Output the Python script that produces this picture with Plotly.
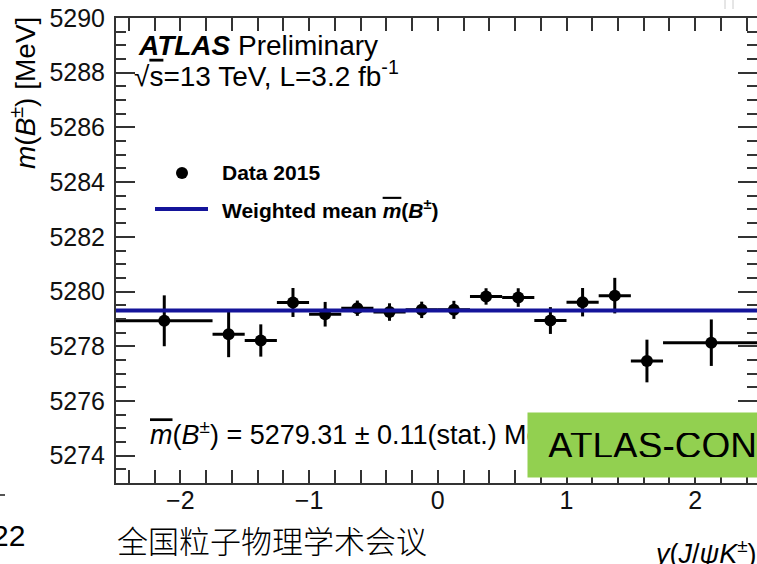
import plotly.graph_objects as go

# B+- mass measured in bins of rapidity y(J/psi K+-), ATLAS 2015 data
bin_lo = [-2.5, -1.75, -1.5, -1.25, -1.0, -0.75, -0.5, -0.25,
          0.0, 0.25, 0.5, 0.75, 1.0, 1.25, 1.5, 1.75]
bin_hi = [-1.75, -1.5, -1.25, -1.0, -0.75, -0.5, -0.25, 0.0,
          0.25, 0.5, 0.75, 1.0, 1.25, 1.5, 1.75, 2.5]
mass_mev = [5278.93, 5278.44, 5278.21, 5279.60, 5279.17, 5279.39, 5279.25, 5279.33,
            5279.33, 5279.82, 5279.78, 5278.94, 5279.61, 5279.85, 5277.46, 5278.13]
stat_err = [0.93, 0.84, 0.59, 0.53, 0.45, 0.28, 0.32, 0.30,
            0.33, 0.30, 0.34, 0.49, 0.52, 0.65, 0.78, 0.85]
weighted_mean = 5279.31
mean_err = 0.11

x_ticks = [-2, -1, 0, 1, 2]
y_ticks = [5274, 5276, 5278, 5280, 5282, 5284, 5286, 5288, 5290]

# canvas geometry (pixels)
W, H = 757, 564
ML, MR, MT, MB = 116, 0, 18, 81
PW, PH = W - ML - MR, H - MT - MB


def px_x(p):
    return (p - ML) / PW


def px_y(p):
    return 1 - (p - MT) / PH


FONT = "Liberation Sans, Arial, Helvetica, sans-serif"
CJK = "Noto Sans CJK SC, sans-serif"
NAVY = "#14149a"
AXC = "#333333"

x_mid = [(a + b) / 2 for a, b in zip(bin_lo, bin_hi)]
x_half = [(b - a) / 2 for a, b in zip(bin_lo, bin_hi)]

fig = go.Figure()

fig.add_trace(go.Scatter(
    x=[bin_lo[0], bin_hi[-1]], y=[weighted_mean, weighted_mean],
    mode="lines", line=dict(color=NAVY, width=4),
    yaxis="y2", showlegend=False, hoverinfo="skip",
))

fig.add_trace(go.Scatter(
    x=x_mid, y=mass_mev, mode="markers",
    marker=dict(color="black", size=12),
    error_y=dict(type="data", array=stat_err, color="black", thickness=3, width=0),
    error_x=dict(type="data", array=x_half, color="black", thickness=3, width=0),
    showlegend=False,
))

y_range = [5273, 5290]
x_range = [-2.5, 2.48]

axis_common = dict(
    showgrid=False, zeroline=False, ticks="inside", tickcolor=AXC,
    tickwidth=2, automargin=False,
    tickfont=dict(family=FONT, size=25, color="#111111"),
)

fig.update_layout(
    width=W, height=H,
    margin=dict(l=ML, r=MR, t=MT, b=MB, pad=0),
    paper_bgcolor="white", plot_bgcolor="white",
    font=dict(family=FONT, color="black"),
    xaxis=dict(
        range=x_range, tickvals=x_ticks, ticklen=13,
        showline=True, linecolor=AXC, linewidth=2, mirror="allticks",
        ticklabelstandoff=-6,
        minor=dict(dtick=0.2, tick0=0, ticks="inside", ticklen=7,
                   tickcolor=AXC, tickwidth=2, showgrid=False),
        **axis_common,
    ),
    yaxis=dict(
        range=y_range, tickvals=y_ticks, ticklen=19,
        showline=True, linecolor=AXC, linewidth=2, mirror=False,
        ticklabelstandoff=4,
        minor=dict(dtick=0.5, tick0=5274, ticks="inside", ticklen=10,
                   tickcolor=AXC, tickwidth=2, showgrid=False),
        **axis_common,
    ),
    yaxis2=dict(
        range=y_range, overlaying="y", side="right", tickvals=y_ticks,
        ticklen=19, showline=False, showticklabels=False,
        minor=dict(dtick=0.5, tick0=5274, ticks="inside", ticklen=10,
                   tickcolor=AXC, tickwidth=2, showgrid=False),
        showgrid=False, zeroline=False, ticks="inside", tickcolor=AXC,
        tickwidth=2,
    ),
    showlegend=False,
)

ann = []


def text(x, y, s, size, xanchor="left", yanchor="middle", family=FONT,
         color="black", weight=None, **kw):
    font = dict(family=family, size=size, color=color)
    if weight is not None:
        font["weight"] = weight
    ann.append(dict(
        xref="paper", yref="paper", x=px_x(x), y=px_y(y), text=s,
        showarrow=False, xanchor=xanchor, yanchor=yanchor,
        font=font, **kw))


OVL = '<span style="text-decoration:overline">%s</span>'

text(136, 46, "<b><i>ATLAS</i></b> Preliminary", 28)
text(132, 74, "\u221a" + OVL % "s" + "=13 TeV, L=3.2 fb<sup>-1</sup>", 28)

# legend entries
text(220, 173, "<b>Data 2015</b>", 21)
text(220, 209, "<b>Weighted mean <i>" + OVL % "m" + "</i>(<i>B</i><sup>\u00b1</sup>)</b>", 21)

# fit result
text(148, 433,
     "<i>" + OVL % "m" + "</i>(<i>B</i><sup>\u00b1</sup>) = %.2f \u00b1 %.2f(stat.) MeV"
     % (weighted_mean, mean_err), 27)

# axis titles
text(23, 15, "<i>m</i>(<i>B</i><sup>\u00b1</sup>) [MeV]", 28,
     xanchor="center", yanchor="top", textangle=-90)
text(652, 552, "<i>y</i>(<i>J</i>/<i>\u03c8</i><i>K</i><sup>\u00b1</sup>)", 27)

# slide footer
text(27, 535, "22", 30, xanchor="right")
text(115, 539, "全国粒子物理学术会议", 31, family=CJK, weight=300)

# conference note label
ann.append(dict(
    xref="paper", yref="paper", x=px_x(527), y=px_y(412),
    xanchor="left", yanchor="top", showarrow=False,
    text="ATLAS-CONF-2016", align="left", valign="middle",
    width=300 - 40, height=64 - 40, borderpad=20,
    bgcolor="#92d050", font=dict(family=FONT, size=37, color="black"),
))

fig.update_layout(annotations=ann)

# slide decorations at the edges
fig.add_shape(type="line", xref="paper", yref="paper",
              x0=px_x(0), x1=px_x(5), y0=px_y(495), y1=px_y(495),
              line=dict(color="#555555", width=2))
for xv in (725, 733):
    fig.add_shape(type="line", xref="paper", yref="paper",
                  x0=px_x(xv), x1=px_x(xv), y0=px_y(0), y1=px_y(9),
                  line=dict(color="#cccccc", width=1))

# legend keys
fig.add_shape(type="circle", xref="paper", yref="paper",
              xsizemode="pixel", ysizemode="pixel",
              xanchor=px_x(182), yanchor=px_y(173),
              x0=-6, x1=6, y0=-6, y1=6,
              fillcolor="black", line=dict(color="black", width=0))
fig.add_shape(type="line", xref="paper", yref="paper",
              x0=px_x(155), x1=px_x(208), y0=px_y(209), y1=px_y(209),
              line=dict(color=NAVY, width=4))

fig.write_html("out.html")
